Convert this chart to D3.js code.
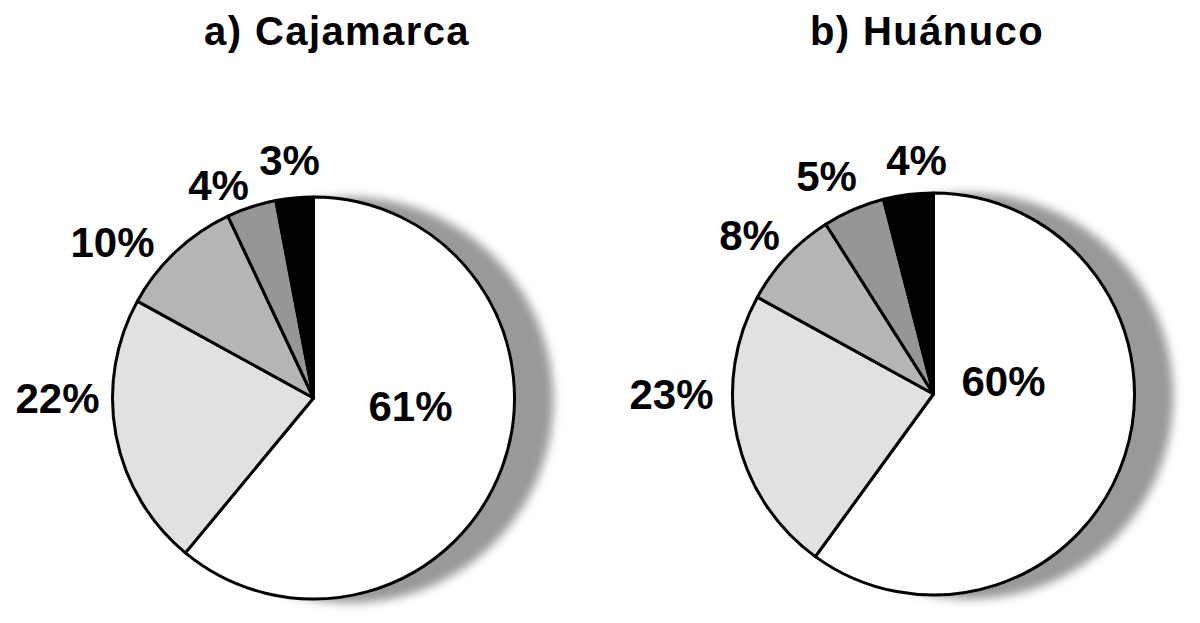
<!DOCTYPE html>
<html>
<head>
<meta charset="utf-8">
<script src="https://cdn.jsdelivr.net/npm/d3@7"></script>
<style>
  body { margin: 0; background: #fff; }
  svg { display: block; }
  text { font-family: "Liberation Sans", Arial, sans-serif; font-weight: bold; fill: #000; }
</style>
</head>
<body>
<svg id="chart" width="1200" height="623"></svg>
<script>
// slice order is clockwise from 12 o'clock
const categories = ['A', 'B', 'C', 'D', 'E'];
const cajamarcaValues = [61, 22, 10, 4, 3];
const huanucoValues = [60, 23, 8, 5, 4];
const titles = ['a) Cajamarca', 'b) Huánuco'];

const SLICE_COLORS = ['#ffffff', '#e1e1e1', '#b5b5b5', '#969696', '#000000'];
const RADIUS = 201;

// label offsets from pie centre (picked by hand, like the original)
const LABEL_OFFSETS = [
  [[97, 8], [-256, 0], [-201, -156], [-95, -213], [-24, -238]],
  [[70, -13], [-262, 0], [-184, -159], [-107, -218], [-17, -234]]
];

const charts = [
  { title: titles[0], values: cajamarcaValues, cx: 313.5, cy: 398, titleX: 337 },
  { title: titles[1], values: huanucoValues, cx: 933.5, cy: 394, titleX: 927 }
];

const svg = d3.select('#chart');

const defs = svg.append('defs');
defs.append('filter')
  .attr('id', 'blur')
  .attr('x', '-20%').attr('y', '-20%')
  .attr('width', '140%').attr('height', '140%')
  .append('feGaussianBlur')
  .attr('stdDeviation', 5);

const pie = d3.pie().sort(null).value(d => d.value);
const arc = d3.arc().innerRadius(0).outerRadius(RADIUS);

charts.forEach((c, ci) => {
  const data = categories.map((k, i) => ({ key: k, value: c.values[i] }));
  const g = svg.append('g').attr('transform', `translate(${c.cx}, ${c.cy})`);

  // soft shadow pushed out to the right
  g.append('circle')
    .attr('cx', 37)
    .attr('cy', 2)
    .attr('r', RADIUS + 2)
    .attr('fill', '#999999')
    .attr('filter', 'url(#blur)');

  g.selectAll('path.slice')
    .data(pie(data))
    .enter().append('path')
    .attr('class', 'slice')
    .attr('d', arc)
    .attr('fill', (d, i) => SLICE_COLORS[i])
    .attr('stroke', '#000')
    .attr('stroke-width', 3)
    .attr('stroke-linejoin', 'round');

  g.selectAll('text.lbl')
    .data(pie(data))
    .enter().append('text')
    .attr('class', 'lbl')
    .attr('x', (d, i) => LABEL_OFFSETS[ci][i][0])
    .attr('y', (d, i) => LABEL_OFFSETS[ci][i][1])
    .attr('text-anchor', 'middle')
    .attr('dominant-baseline', 'central')
    .style('font-size', '42px')
    .text(d => d.data.value + '%');

  svg.append('text')
    .attr('x', c.titleX)
    .attr('y', 45)
    .attr('text-anchor', 'middle')
    .style('font-size', '40px')
    .style('letter-spacing', '1.4px')
    .text(c.title);
});
</script>
</body>
</html>
